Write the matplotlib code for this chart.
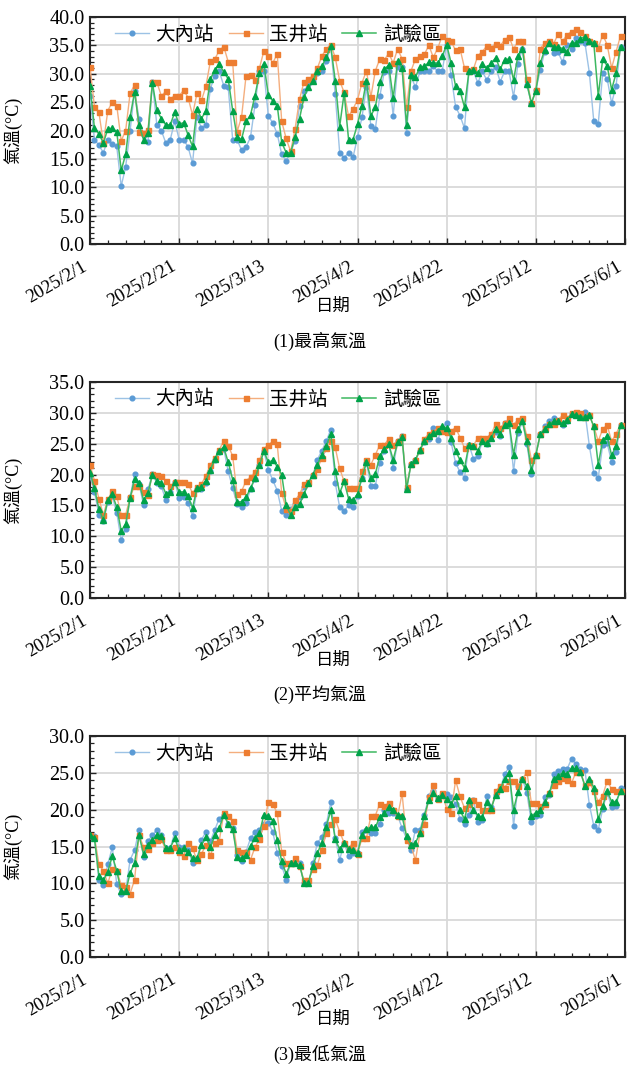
import matplotlib
matplotlib.use("Agg")
import matplotlib.pyplot as plt
import matplotlib.ticker as mticker
import matplotlib.transforms as mtransforms
import matplotlib.dates as mdates
import pandas as pd

# ---------------------------------------------------------------- data
dates = pd.date_range("2025-02-01", periods=120, freq="D")
stations = ["大內站", "玉井站", "試驗區"]

# 最高氣溫 (°C)
tmax_danei = [
    26.1, 18.4, 17.4, 16.1, 18.4, 17.6, 17.2, 10.2, 13.6, 20.0,
    27.0, 22.1, 19.2, 17.9, 28.5, 20.9, 20.0, 17.8, 18.4, 21.6,
    18.4, 18.4, 17.1, 14.2, 22.4, 20.4, 21.0, 27.4, 29.6, 30.4,
    27.9, 27.6, 18.4, 18.4, 16.5, 17.1, 18.8, 24.5, 30.4, 30.4,
    22.6, 21.3, 19.4, 15.8, 14.7, 16.1, 18.2, 24.4, 26.9, 28.2,
    28.8, 30.1, 30.4, 32.2, 34.8, 26.4, 16.1, 15.2, 16.1, 15.3,
    18.8, 22.3, 27.6, 20.8, 20.3, 26.0, 30.3, 30.4, 22.6, 31.2,
    31.2, 19.5, 29.6, 27.6, 30.4, 30.4, 30.4, 31.3, 30.4, 30.5,
    35.1, 29.7, 24.2, 22.6, 20.4, 30.4, 30.4, 28.4, 30.4, 28.9,
    30.4, 31.2, 28.6, 30.4, 30.4, 25.9, 31.8, 34.4, 28.1, 24.8,
    27.1, 30.7, 33.9, 35.5, 33.6, 33.8, 32.0, 35.1, 34.4, 36.3,
    35.7, 35.5, 30.2, 21.6, 21.2, 30.1, 29.1, 24.8, 27.9, 34.8,
]
tmax_yujing = [
    31.2, 24.2, 23.2, 17.8, 23.5, 25.0, 24.4, 18.2, 20.0, 26.6,
    28.0, 19.7, 19.5, 20.1, 28.5, 28.5, 26.1, 26.9, 25.6, 26.1,
    26.1, 27.1, 25.8, 22.7, 26.6, 25.3, 27.8, 32.2, 32.6, 34.1,
    34.8, 32.1, 32.1, 19.8, 22.4, 29.6, 29.8, 28.9, 31.0, 34.0,
    33.2, 31.9, 33.5, 21.6, 18.6, 16.3, 20.3, 25.5, 28.6, 29.1,
    29.6, 31.0, 33.1, 34.4, 35.1, 32.9, 28.8, 26.7, 22.5, 23.8,
    25.4, 28.4, 30.5, 25.9, 30.5, 32.6, 32.4, 33.6, 31.9, 34.4,
    32.6, 24.1, 30.5, 32.6, 33.1, 33.4, 35.0, 32.9, 34.5, 36.7,
    35.9, 35.7, 34.1, 34.4, 31.0, 30.4, 30.8, 33.2, 33.9, 34.9,
    34.6, 35.3, 34.9, 36.0, 36.5, 34.4, 35.7, 35.7, 29.1, 24.8,
    27.1, 34.4, 35.5, 35.7, 35.3, 37.0, 35.7, 36.9, 37.4, 37.8,
    37.3, 36.6, 35.7, 35.5, 34.5, 36.9, 35.1, 31.0, 33.9, 36.7,
]
tmax_site = [
    27.9, 20.4, 19.4, 17.8, 20.3, 20.4, 19.8, 13.0, 15.8, 22.4,
    26.8, 21.0, 18.4, 19.5, 28.4, 23.6, 22.1, 21.0, 21.0, 23.2,
    21.1, 21.4, 19.2, 17.2, 23.8, 22.1, 23.5, 29.1, 30.6, 31.7,
    30.3, 29.1, 23.5, 18.8, 18.5, 21.6, 22.7, 26.1, 30.1, 31.7,
    26.3, 25.2, 24.4, 17.9, 16.1, 16.1, 18.9, 22.1, 25.9, 27.6,
    28.8, 30.5, 31.3, 32.9, 34.9, 28.8, 20.7, 26.6, 18.4, 18.4,
    21.1, 24.4, 28.8, 22.6, 24.1, 28.5, 30.8, 31.5, 25.7, 32.2,
    31.0, 20.9, 29.7, 29.4, 31.2, 31.3, 32.0, 31.9, 31.9, 33.1,
    35.1, 31.9, 27.8, 27.0, 24.1, 30.4, 30.7, 30.1, 31.7, 31.0,
    31.9, 32.8, 30.8, 32.5, 32.6, 28.9, 33.2, 34.4, 28.2, 24.8,
    27.0, 31.9, 34.2, 35.5, 34.7, 34.8, 34.4, 33.8, 35.5, 35.4,
    36.2, 36.5, 35.8, 35.4, 26.1, 32.6, 31.4, 27.2, 30.1, 34.8,
]

# 平均氣溫 (°C)
tavg_danei = [
    19.7, 17.2, 13.5, 12.4, 15.6, 16.5, 13.8, 9.4, 11.1, 16.3,
    20.1, 18.5, 15.1, 17.6, 20.1, 18.6, 18.1, 15.9, 17.2, 18.8,
    16.2, 16.3, 15.4, 13.3, 17.6, 17.7, 18.7, 20.5, 22.4, 23.7,
    24.2, 20.5, 17.8, 15.2, 14.8, 15.4, 17.6, 19.3, 21.6, 23.8,
    20.8, 19.1, 17.4, 14.1, 13.4, 14.4, 15.2, 16.4, 18.0, 18.7,
    19.9, 22.4, 23.9, 25.4, 27.3, 18.7, 14.7, 14.1, 15.0, 14.7,
    16.5, 19.5, 21.9, 18.2, 18.2, 21.9, 23.9, 25.1, 21.1, 25.4,
    26.2, 17.7, 21.7, 22.3, 23.9, 25.3, 25.8, 27.5, 25.6, 27.6,
    28.4, 25.2, 21.9, 20.4, 19.5, 24.8, 22.6, 23.0, 25.4, 24.9,
    26.2, 26.9, 26.2, 28.3, 28.4, 20.5, 26.7, 28.6, 24.9, 20.1,
    23.2, 26.6, 27.8, 28.6, 29.2, 28.7, 28.1, 28.7, 29.8, 29.8,
    29.4, 30.2, 24.7, 20.3, 19.5, 24.8, 25.1, 22.0, 23.7, 28.1,
]
tavg_yujing = [
    21.6, 19.0, 16.1, 13.5, 16.0, 17.3, 16.5, 13.5, 13.5, 16.3,
    18.2, 18.1, 17.2, 16.7, 20.1, 20.0, 19.8, 18.9, 18.1, 18.8,
    18.8, 18.8, 18.5, 17.0, 18.0, 18.5, 19.8, 21.6, 22.7, 24.0,
    25.5, 24.7, 23.0, 16.8, 17.3, 19.0, 19.6, 20.4, 22.3, 24.2,
    24.8, 25.4, 24.9, 17.0, 14.5, 14.1, 15.8, 16.8, 18.4, 18.8,
    19.9, 20.9, 22.7, 24.3, 25.4, 24.4, 21.0, 18.9, 17.8, 17.8,
    17.8, 20.5, 22.3, 21.6, 23.2, 24.8, 24.8, 25.8, 24.8, 25.5,
    26.3, 18.0, 21.7, 22.4, 24.0, 25.8, 26.6, 26.9, 27.6, 27.0,
    26.9, 27.1, 27.6, 26.0, 24.3, 24.8, 24.7, 26.0, 26.0, 26.0,
    26.6, 28.2, 27.6, 28.3, 29.1, 28.1, 28.9, 29.1, 26.2, 22.4,
    23.2, 26.6, 27.6, 28.2, 28.2, 28.9, 29.6, 29.1, 29.9, 30.1,
    29.9, 29.4, 29.6, 27.8, 25.4, 27.4, 28.0, 25.4, 26.6, 28.1,
]
tavg_site = [
    20.3, 17.8, 14.4, 12.7, 15.8, 16.8, 14.7, 10.9, 12.0, 16.2,
    19.3, 18.7, 15.9, 17.0, 20.0, 19.0, 18.7, 16.9, 17.2, 18.8,
    17.2, 17.2, 16.5, 14.6, 17.8, 18.0, 19.0, 20.8, 22.5, 23.9,
    24.4, 22.0, 19.2, 15.6, 15.6, 16.3, 17.8, 19.4, 21.5, 23.8,
    22.0, 22.3, 21.3, 20.0, 15.0, 13.5, 14.7, 15.2, 16.8, 18.7,
    20.0, 21.6, 23.2, 24.7, 26.5, 20.6, 17.0, 18.9, 16.1, 15.8,
    16.9, 19.5, 22.0, 19.4, 20.1, 23.0, 24.1, 24.9, 22.4, 25.2,
    26.1, 17.6, 21.7, 22.4, 24.0, 25.4, 26.2, 26.7, 27.1, 27.8,
    27.6, 26.0, 23.9, 22.3, 21.1, 24.8, 24.6, 23.9, 25.4, 25.1,
    26.0, 27.4, 26.6, 28.1, 28.3, 23.2, 27.4, 28.6, 25.4, 20.8,
    23.2, 26.5, 27.4, 28.2, 28.6, 28.6, 28.3, 28.9, 29.8, 29.7,
    29.4, 29.4, 29.6, 27.8, 21.6, 25.6, 26.2, 23.1, 24.7, 28.1,
]

# 最低氣溫 (°C)
tmin_danei = [
    16.4, 16.4, 10.4, 9.8, 12.6, 14.9, 9.9, 8.5, 8.9, 13.2,
    14.5, 17.3, 13.6, 15.8, 16.5, 17.3, 16.5, 14.8, 14.8, 16.9,
    15.0, 14.9, 14.5, 12.8, 13.3, 15.9, 17.0, 15.7, 17.3, 18.8,
    19.3, 18.1, 17.5, 13.9, 13.0, 14.3, 16.1, 17.0, 17.3, 18.0,
    18.2, 17.0, 14.1, 12.4, 10.5, 12.8, 12.7, 12.7, 10.0, 10.0,
    12.7, 15.5, 16.3, 18.0, 21.0, 16.1, 13.2, 15.5, 13.7, 14.1,
    14.1, 17.0, 17.3, 16.9, 16.9, 18.1, 20.0, 19.6, 19.5, 19.2,
    17.5, 16.1, 14.5, 17.3, 17.3, 19.3, 21.8, 22.5, 21.6, 22.0,
    22.1, 21.7, 20.8, 18.7, 18.0, 19.3, 21.3, 18.3, 18.6, 21.8,
    20.4, 22.0, 22.8, 24.8, 25.8, 17.8, 23.2, 24.2, 22.2, 18.3,
    19.2, 19.3, 21.7, 22.0, 24.8, 25.2, 25.5, 25.5, 26.9, 26.2,
    25.5, 25.4, 20.7, 17.8, 17.3, 20.1, 22.3, 20.4, 20.5, 23.0,
]
tmin_yujing = [
    16.5, 16.3, 12.6, 11.7, 10.0, 12.0, 11.7, 9.8, 9.5, 8.6,
    10.5, 16.5, 15.0, 14.7, 15.5, 15.9, 16.0, 14.5, 14.5, 15.0,
    14.3, 13.7, 15.5, 14.8, 13.1, 14.0, 15.2, 13.8, 15.5, 15.8,
    19.5, 19.2, 18.4, 14.5, 14.2, 14.3, 13.2, 14.9, 16.0, 17.8,
    21.1, 20.8, 19.5, 14.3, 12.8, 12.7, 13.4, 12.4, 10.4, 10.4,
    11.9, 12.5, 14.5, 16.8, 18.0, 18.7, 17.0, 15.5, 14.8, 15.5,
    14.0, 16.1, 16.1, 19.2, 19.2, 20.8, 20.5, 20.9, 19.9, 19.1,
    22.2, 15.9, 15.2, 13.1, 16.8, 18.0, 21.7, 23.4, 21.5, 22.3,
    20.1, 19.6, 24.0, 21.8, 20.2, 20.8, 21.3, 20.8, 20.0, 20.0,
    20.0, 22.5, 23.2, 23.0, 23.9, 23.9, 23.2, 24.2, 25.1, 20.9,
    20.9, 20.5, 20.8, 22.3, 23.4, 23.9, 24.3, 24.0, 23.6, 25.1,
    25.1, 23.4, 23.7, 22.5, 21.1, 21.9, 23.9, 22.8, 22.5, 22.5,
]
tmin_site = [
    16.5, 16.1, 11.0, 10.4, 11.6, 13.7, 11.7, 8.9, 8.9, 11.4,
    12.8, 16.5, 14.0, 15.2, 15.9, 16.6, 16.4, 14.8, 14.8, 16.1,
    14.5, 14.8, 14.2, 13.4, 13.4, 15.2, 16.3, 14.9, 16.5, 17.5,
    19.3, 18.1, 17.4, 13.6, 13.4, 13.9, 15.1, 16.1, 16.8, 19.3,
    19.2, 18.5, 15.9, 13.0, 11.3, 12.7, 12.7, 12.5, 10.1, 10.1,
    12.4, 14.1, 15.5, 17.7, 19.9, 16.0, 14.6, 15.5, 14.6, 14.5,
    14.1, 16.6, 17.4, 17.6, 17.6, 19.0, 19.5, 20.4, 20.0, 19.3,
    19.1, 16.4, 15.2, 15.5, 16.8, 19.2, 21.3, 22.3, 21.6, 22.0,
    21.4, 20.8, 21.8, 19.9, 18.7, 21.3, 20.0, 19.2, 19.0, 21.0,
    20.2, 22.0, 22.8, 24.1, 25.0, 20.0, 22.4, 24.2, 23.2, 19.1,
    19.6, 19.9, 21.0, 22.2, 24.1, 24.6, 25.0, 24.9, 25.6, 25.6,
    25.1, 23.2, 24.1, 23.0, 18.7, 20.5, 22.5, 21.1, 21.1, 22.5,
]

panel_titles = ["(1)最高氣溫", "(2)平均氣溫", "(3)最低氣溫"]
y_limits = [40, 35, 30]
xtick_dates = pd.date_range("2025-02-01", "2025-06-01", freq="20D")
minor_dates = pd.date_range("2025-02-01", "2025-06-01", freq="4D")

panels = [
    (tmax_danei, tmax_yujing, tmax_site),
    (tavg_danei, tavg_yujing, tavg_site),
    (tmin_danei, tmin_yujing, tmin_site),
]

# ---------------------------------------------------------------- style
W, H = 627, 1068
SERIF = "Liberation Serif"
CJK = "Noto Sans CJK TC"
MIXED = [SERIF, CJK]

line_styles = [
    dict(color="#9CC2E5", marker="o", ms=3.4, mfc="#5B9BD5", mec="#5B9BD5", lw=1.0),
    dict(color="#F4AE7E", marker="s", ms=3.6, mfc="#ED7D31", mec="#ED7D31", lw=1.0),
    dict(color="#3DB861", marker="^", ms=4.2, mfc="#00A249", mec="#00A249", lw=1.1),
]

# axes boxes in pixels: (top, bottom)
boxes = [(17, 244), (382, 598), (736, 957)]
AX_LEFT, AX_RIGHT = 90, 625
xlabel_offset = 62    # 日期 below the axes bottom (px)
title_offset = 97     # caption below the axes bottom (px)

fig = plt.figure(figsize=(W / 100, H / 100), dpi=100)
# date labels: anchored a little left of and below their tick
label_shift = mtransforms.ScaledTranslation(-9 / 100, -14 / 100, fig.dpi_scale_trans)

for (top, bottom), series, ymax, title in zip(boxes, panels, y_limits, panel_titles):
    ax = fig.add_axes([AX_LEFT / W, 1 - bottom / H,
                       (AX_RIGHT - AX_LEFT) / W, (bottom - top) / H])

    handles = []
    for values, name, st in zip(series, stations, line_styles):
        h, = ax.plot(dates, values, label=name, zorder=3, **st)
        handles.append(h)

    ax.set_xlim(pd.Timestamp("2025-02-01"), pd.Timestamp("2025-06-01"))
    ax.set_ylim(0, ymax)

    ax.set_xticks(xtick_dates)
    ax.set_xticks(minor_dates, minor=True)
    ax.set_xticklabels([])
    date_trans = ax.get_xaxis_transform() + label_shift
    for d in xtick_dates:
        ax.text(mdates.date2num(d), 0, f"{d.year}/{d.month}/{d.day}",
                transform=date_trans, rotation=30, rotation_mode="anchor",
                ha="right", va="top", fontsize=13.5, family=SERIF, clip_on=False)

    ax.yaxis.set_major_locator(mticker.MultipleLocator(5))
    ax.yaxis.set_minor_locator(mticker.MultipleLocator(1))
    ax.yaxis.set_major_formatter(mticker.FormatStrFormatter("%.1f"))
    for lbl in ax.get_yticklabels():
        lbl.set_family(SERIF)
        lbl.set_fontsize(14.5)

    ax.tick_params(axis="both", which="both", direction="in",
                   color="#222222", top=False, right=False)
    ax.tick_params(axis="both", which="major", length=4.5, width=1.0, pad=4)
    ax.tick_params(axis="both", which="minor", length=3, width=0.9)

    ax.grid(True, which="major", color="#D9D9D9", lw=1.3, zorder=0)
    ax.set_axisbelow(True)
    for sp in ax.spines.values():
        sp.set_color("#262626")
        sp.set_linewidth(1.5)

    ax.set_ylabel("氣溫(°C)", family=MIXED, fontsize=13)
    ax.yaxis.set_label_coords(-68 / (AX_RIGHT - AX_LEFT), 0.5)

    ax.legend(handles=handles, loc="upper left", ncol=3,
              bbox_to_anchor=(0.046, 0.97), borderaxespad=0, borderpad=0,
              frameon=False, handlelength=1.75, handletextpad=0.35,
              columnspacing=0.75,
              prop={"family": CJK, "size": 14})

    fig.text(333 / W, 1 - (bottom + xlabel_offset) / H, "日期",
             ha="center", va="center", family=CJK, fontsize=12.5)
    fig.text(320 / W, 1 - (bottom + title_offset) / H, title,
             ha="center", va="center", family=MIXED, fontsize=13)

fig.savefig("out.png", dpi=100)
